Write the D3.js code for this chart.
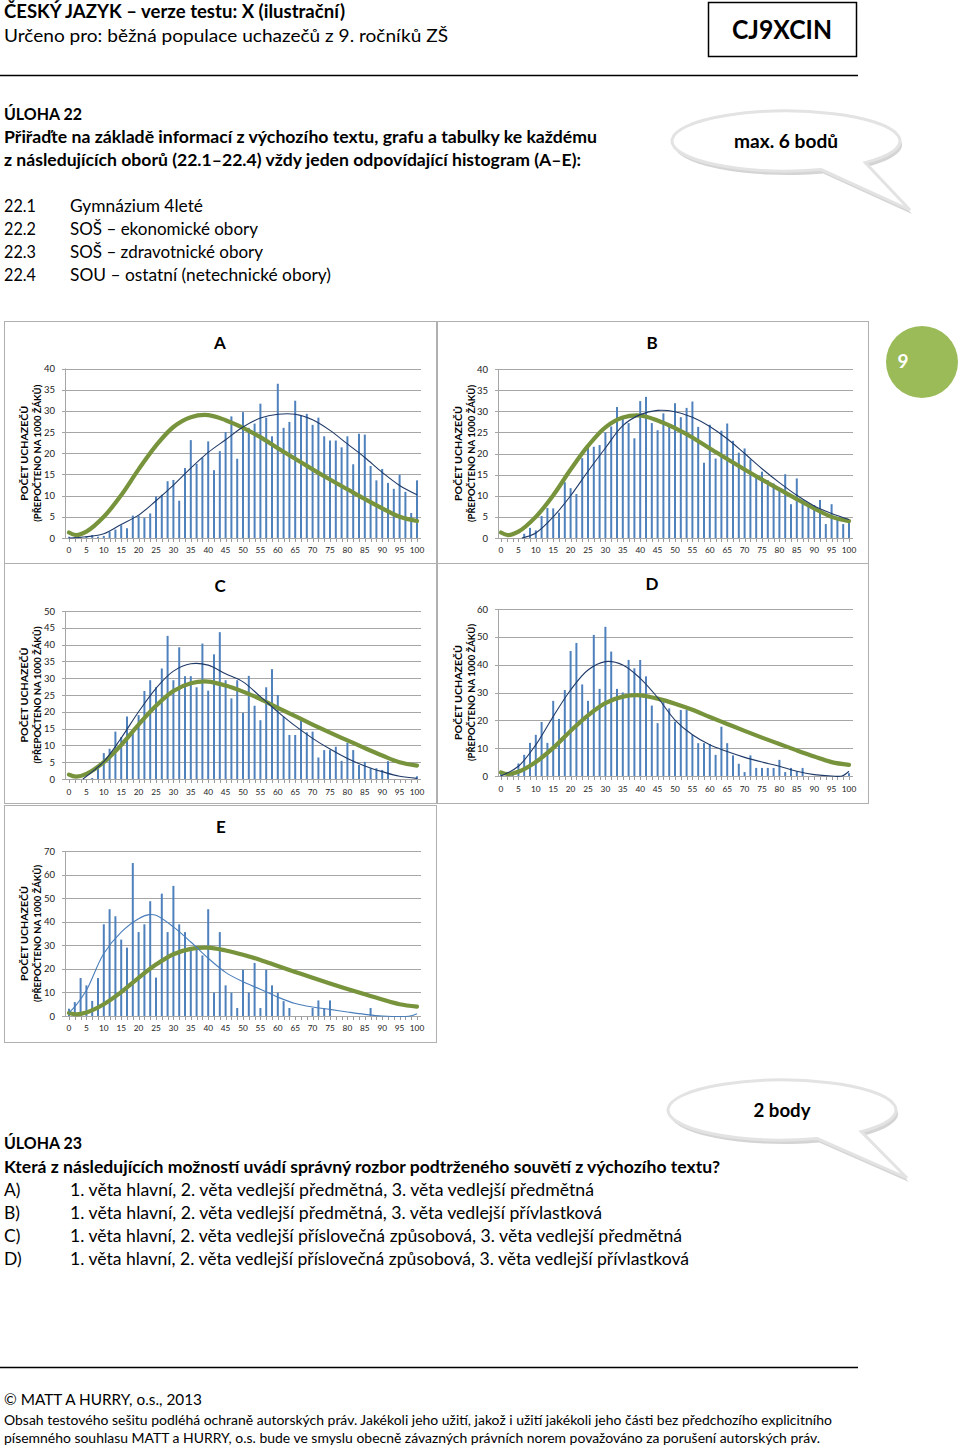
<!DOCTYPE html>
<html><head><meta charset="utf-8">
<script src="https://cdn.jsdelivr.net/npm/d3@7/dist/d3.min.js"></script>
<style>body{margin:0;background:#fff}svg{display:block}</style>
</head><body>
<svg id="page" width="960" height="1447"></svg>
<script>
// ---------------- DATA ----------------
const scoreIdx = d3.range(61); // 61 score categories, shown on a 0–100 % axis
const xTickLabels = [0,5,10,15,20,25,30,35,40,45,50,55,60,65,70,75,80,85,90,95,100];
const yTicksA = [0,5,10,15,20,25,30,35,40];
const yTicksB = [0,5,10,15,20,25,30,35,40];
const yTicksC = [0,5,10,15,20,25,30,35,40,45,50];
const yTicksD = [0,10,20,30,40,50,60];
const yTicksE = [0,10,20,30,40,50,60,70];

const barsA = [0.3,0.2,0.2,0.4,0.7,0.3,0.5,1.5,2,3,2.3,5.3,5.3,4.8,5.8,9.8,10.2,13.4,13.7,8.8,16.5,23.1,17.5,19,22.8,16,20.5,25,28.7,18.7,29.7,26,27,31.7,28.4,24,36.4,26,27.4,32.4,28.9,29.3,26.7,28.4,24,23,23,21.4,24,17.4,24.6,24.4,17,13.6,16.3,13,11.6,14.9,10.9,5.9,13.6];
const barsB = [0,0,0,0,1,2.4,1.8,5.2,7.1,7,6,13.2,11.8,10.4,18.9,21.7,21.6,22,25,26.4,31,28.2,27.2,23.6,32.4,33.4,27.2,25.5,29.5,26.3,31.9,28.6,30.8,32.3,26.3,17.8,26.8,18.8,25.4,27.1,23,20.2,21.2,18.6,14.9,15.7,13.7,12.9,11.8,15.1,8,14.1,9,7.8,7.8,9,3.3,8,5,3.3,4.3];
const barsC = [0,0,0,0,0.3,3.6,7.7,9,14.1,12.5,18.6,14.1,19,26.2,29.4,27.3,32.9,42.6,29.4,39.2,30.6,30.6,27.3,40.3,26.3,37.1,43.7,29.4,24,29.4,19.7,30.7,21.8,17.5,27.3,32.7,25,18.5,13.1,13.1,17.4,13.9,14.1,6.4,8.6,8.6,9.6,5.4,10.8,8.6,4.2,5.1,3.2,3.2,2.7,5.3,0,0,0,0,0.8];
const barsD = [1.3,0,0.7,4.5,7.6,11.9,14.8,19.4,11.9,27,20.5,30.9,44.9,47.8,32.9,27,50.7,31.3,53.6,44.7,31.3,30,41.7,38.7,41.7,35.8,25.3,19,26.7,24.3,19.5,23.7,23.7,14.8,11.8,11.8,11.5,7.6,17.7,11.8,7.4,4.4,1.4,7.4,2.9,2.9,2.9,2.9,5.8,1.4,2.9,1.7,2.9,0,0,0,0,0,0,0,1];
const barsE = [3.1,5.9,16.1,13,6.4,16.1,38.9,45.3,42.3,32.4,29,64.9,35.6,38.9,48.7,16.3,51.9,35.6,55.2,38.9,35.6,28.5,29,25.7,45.3,9.9,35.6,13,9.9,3.4,19.6,9.9,22.5,3.4,19.6,13,9.9,6.3,3.4,0,0,0,3.4,6.6,3.4,6.6,0,0,0,0,0,0,3.4,0,0,0,0,0,0,0,0];

// fitted curves [percent, value]
const fitA = [[0,0],[5,0.3],[10,1],[15,3.2],[20,5.4],[25,8.8],[30,12.5],[35,16.5],[40,20.2],[45,23.2],[50,26.2],[55,28.3],[60,29.2],[65,29.2],[70,27.9],[75,25.4],[80,22.2],[85,19],[90,15.5],[95,12.4],[100,10.2]];
const fitB = [[6,0],[10,1.2],[15,5],[20,10],[25,15.8],[30,21.3],[35,26.6],[40,29.2],[45,30.2],[50,29.9],[55,28.6],[60,26.4],[65,23.5],[70,20],[75,16.4],[80,13.1],[85,10.1],[90,7.6],[95,5.8],[100,4.4]];
const fitC = [[4,0],[10,5.2],[15,12.2],[20,20],[25,27],[30,32.1],[35,34.3],[40,33.9],[45,31.3],[50,28.9],[55,24.5],[60,20],[65,15.8],[70,12.1],[75,8.9],[80,6.1],[85,3.9],[90,2.2],[95,0.8],[100,0.2]];
const fitD = [[0,0],[5,3.5],[10,11.2],[15,21.4],[20,30.9],[25,38.1],[30,41.1],[35,39.9],[40,35.1],[45,28.2],[50,20.1],[55,14.8],[60,11.2],[65,8.8],[70,6.7],[75,5],[80,3.5],[85,1.7],[90,0.5],[95,0],[98,0],[100,1.7]];
const fitE = [[0,1.4],[2,4.5],[5,10.9],[10,26.5],[15,35.6],[20,41.3],[23,43],[25,42.7],[30,37.8],[35,31.4],[40,24.5],[45,18.5],[50,14.5],[55,11.3],[60,8],[65,5.3],[70,3.8],[75,2.8],[80,1.7],[85,0.7],[90,0],[98,0],[100,1]];
// reference population curve (same in all histograms)
const refCurve = [[0,1.3],[2,0.7],[5,1.5],[10,5],[15,10.1],[20,16.2],[25,21.8],[30,26.2],[35,28.5],[40,29],[45,27.8],[50,26],[55,23.8],[60,21.2],[65,18.7],[70,16.2],[75,13.8],[80,11.5],[85,9.2],[90,7],[95,5],[100,4]];

const taskItems = [["22.1","Gymnázium 4leté"],["22.2","SOŠ – ekonomické obory"],["22.3","SOŠ – zdravotnické obory"],["22.4","SOU – ostatní (netechnické obory)"]];
const answers = [["A)","1. věta hlavní, 2. věta vedlejší předmětná, 3. věta vedlejší předmětná"],
 ["B)","1. věta hlavní, 2. věta vedlejší předmětná, 3. věta vedlejší přívlastková"],
 ["C)","1. věta hlavní, 2. věta vedlejší příslovečná způsobová, 3. věta vedlejší předmětná"],
 ["D)","1. věta hlavní, 2. věta vedlejší příslovečná způsobová, 3. věta vedlejší přívlastková"]];

// ---------------- DRAW ----------------
const F = "Lato, 'Open Sans', 'DejaVu Sans', sans-serif";
const svg = d3.select("#page");

function txt(x, y, s, o = {}) {
  const t = svg.append("text").attr("x", x).attr("y", y).text(s)
    .attr("font-family", F).attr("font-size", o.size || 17)
    .attr("font-weight", o.bold ? "bold" : "normal")
    .attr("fill", o.fill || "#000")
    .attr("text-anchor", o.anchor || "start");
  if (o.len) t.attr("textLength", o.len).attr("lengthAdjust", "spacingAndGlyphs");
  return t;
}

// header
txt(4, 18, "ČESKÝ JAZYK – verze testu: X (ilustrační)", {bold:true, size:18, len:341});
txt(4, 42, "Určeno pro: běžná populace uchazečů z 9. ročníků ZŠ", {size:18, len:444});
svg.append("rect").attr("x", 708.5).attr("y", 2.5).attr("width", 148).attr("height", 54)
  .attr("fill", "none").attr("stroke", "#000").attr("stroke-width", 1.5);
txt(782, 39, "CJ9XCIN", {bold:true, size:27, anchor:"middle", len:100});
svg.append("line").attr("x1", 0).attr("x2", 858).attr("y1", 75.5).attr("y2", 75.5).attr("stroke", "#000").attr("stroke-width", 1.5);

txt(4, 120, "ÚLOHA 22", {bold:true, size:17.5, len:78});
txt(4, 143, "Přiřaďte na základě informací z výchozího textu, grafu a tabulky ke každému", {bold:true, size:17.5, len:593});
txt(4, 166, "z následujících oborů (22.1–22.4) vždy jeden odpovídající histogram (A–E):", {bold:true, size:17.5, len:577});

function bubble(cx, cy, rx, ry, a1, a2, tip, label, lw) {
  const p = a => [cx + rx * Math.cos(a * Math.PI / 180), cy + ry * Math.sin(a * Math.PI / 180)];
  const P2 = p(a2), P1 = p(a1);
  const d = `M${P2[0]},${P2[1]} A${rx},${ry} 0 1 0 ${P1[0]},${P1[1]} L${tip[0]},${tip[1]} Z`;
  svg.append("path").attr("d", d).attr("transform", "translate(2,4)").attr("fill", "#d4d4d4");
  svg.append("path").attr("d", d).attr("fill", "#fff").attr("stroke", "#e3e3e3").attr("stroke-width", 3);
  txt(cx, cy + 7, label, {bold:true, size:19, anchor:"middle", len:lw});
}
bubble(786, 141, 114, 30, 72, 46, [910, 210], "max. 6 bodů", 104);

const list = svg.append("g");
taskItems.forEach((d, i) => {
  txt(4, 212 + i * 23, d[0], {size:17.5, len:32});
});
const itemLens = [133, 188, 193, 261];
taskItems.forEach((d, i) => txt(70, 212 + i * 23, d[1], {size:17.5, len:itemLens[i]}));

// green page badge
svg.append("circle").attr("cx", 922).attr("cy", 362).attr("r", 36).attr("fill", "#9bbb59");
txt(903, 368, "9", {bold:true, size:19, fill:"#fff", anchor:"middle"});

// charts
function chart(c) {
  const g = svg.append("g");
  g.append("rect").attr("x", c.box[0] + 0.5).attr("y", c.box[1] + 0.5)
    .attr("width", c.box[2] - c.box[0]).attr("height", c.box[3] - c.box[1])
    .attr("fill", "#fff").attr("stroke", "#b0b0b0");
  const x = d3.scaleLinear().domain([0, 100]).range([c.xl, c.xr]);
  const xb = d3.scalePoint().domain(scoreIdx).range([c.xl, c.xr]);
  const y = d3.scaleLinear().domain([0, c.ymax]).range([c.yb, c.yt]);
  // gridlines
  g.selectAll(".grid").data(c.yticks).join("line")
    .attr("x1", c.gl).attr("x2", c.gr)
    .attr("y1", d => Math.round(y(d)) + 0.5).attr("y2", d => Math.round(y(d)) + 0.5)
    .attr("stroke", "#a6a6a6").attr("stroke-width", 1);
  // y axis line
  g.append("line").attr("x1", c.gl + 3.5).attr("x2", c.gl + 3.5).attr("y1", y(c.ymax)).attr("y2", y(0))
    .attr("stroke", "#a6a6a6");
  // y labels
  g.selectAll(".yl").data(c.yticks).join("text")
    .attr("x", c.gl - 7).attr("y", d => y(d) + 3.5).attr("text-anchor", "end")
    .attr("font-family", F).attr("font-size", 9.5).attr("fill", "#222").text(d => d);
  // x minor ticks
  g.selectAll(".xt").data(scoreIdx).join("line")
    .attr("x1", d => Math.round(xb(d)) + 0.5).attr("x2", d => Math.round(xb(d)) + 0.5)
    .attr("y1", y(0)).attr("y2", y(0) + 4).attr("stroke", "#9a9a9a");
  // x labels
  g.selectAll(".xl").data(xTickLabels).join("text")
    .attr("x", d => x(d)).attr("y", c.xly + 3).attr("text-anchor", "middle")
    .attr("font-family", F).attr("font-size", 8.3).attr("fill", "#222").text(d => d);
  // bars
  g.selectAll(".bar").data(c.bars.map((v, i) => ({i, v}))).join("rect")
    .attr("x", d => xb(d.i) - 1).attr("width", 2)
    .attr("y", d => y(d.v)).attr("height", d => y(0) - y(d.v))
    .attr("fill", "#4f81bd");
  // x axis line
  g.append("line").attr("x1", c.gl).attr("x2", c.gr).attr("y1", Math.round(y(0)) + 0.5).attr("y2", Math.round(y(0)) + 0.5)
    .attr("stroke", "#a6a6a6");
  const line = d3.line().x(d => x(d[0])).y(d => y(d[1])).curve(d3.curveCatmullRom.alpha(0.5));
  g.append("path").attr("d", line(refCurve)).attr("fill", "none")
    .attr("stroke", "#77933c").attr("stroke-width", 4.2).attr("stroke-linecap", "round");
  g.append("path").attr("d", line(c.fit)).attr("fill", "none")
    .attr("stroke", c.fitColor).attr("stroke-width", 1.1);
  // title
  g.append("text").attr("x", c.tx).attr("y", c.ty).attr("text-anchor", "middle")
    .attr("font-family", F).attr("font-weight", "bold").attr("font-size", 17).text(c.title);
  // y axis title
  const cy = (y(0) + y(c.ymax)) / 2;
  g.append("text").attr("transform", `translate(${c.at1},${cy}) rotate(-90)`).attr("text-anchor", "middle")
    .attr("font-family", F).attr("font-weight", "bold").attr("font-size", 9.5)
    .attr("textLength", 95).attr("lengthAdjust", "spacingAndGlyphs").text("POČET UCHAZEČŮ");
  g.append("text").attr("transform", `translate(${c.at1 + 12.5},${cy}) rotate(-90)`).attr("text-anchor", "middle")
    .attr("font-family", F).attr("font-weight", "bold").attr("font-size", 9.5)
    .attr("textLength", 137).attr("lengthAdjust", "spacingAndGlyphs").text("(PŘEPOČTENO NA 1000 ŽÁKŮ)");
}

chart({box:[4,321,436,563], title:"A", tx:220, ty:349, xl:69, xr:417, gl:62, gr:421, yb:538, yt:368.5, ymax:40, yticks:yTicksA, xly:550, bars:barsA, fit:fitA, fitColor:"#1f3a68", at1:28});
chart({box:[437,321,868,563], title:"B", tx:652, ty:349, xl:501, xr:849, gl:495, gr:853, yb:538, yt:369, ymax:40, yticks:yTicksB, xly:550, bars:barsB, fit:fitB, fitColor:"#1f3a68", at1:462});
chart({box:[4,563,436,803], title:"C", tx:220, ty:592, xl:69, xr:417, gl:62, gr:421, yb:779, yt:611, ymax:50, yticks:yTicksC, xly:792, bars:barsC, fit:fitC, fitColor:"#1f3a68", at1:28});
chart({box:[437,563,868,803], title:"D", tx:652, ty:590, xl:501, xr:849, gl:495, gr:853, yb:776, yt:609, ymax:60, yticks:yTicksD, xly:789, bars:barsD, fit:fitD, fitColor:"#1f3a68", at1:462});
chart({box:[4,805,436,1042], title:"E", tx:221, ty:833, xl:69, xr:417, gl:62, gr:421, yb:1016, yt:851, ymax:70, yticks:yTicksE, xly:1028, bars:barsE, fit:fitE, fitColor:"#4a7ebb", at1:28});

// task 23
bubble(782, 1110, 114, 30, 72, 46, [907, 1178], "2 body", 57);
txt(4, 1149, "ÚLOHA 23", {bold:true, size:17.5, len:78});
txt(4, 1173, "Která z následujících možností uvádí správný rozbor podtrženého souvětí z výchozího textu?", {bold:true, size:17.5, len:716});
const ansLens = [524, 532, 612, 619];
answers.forEach((d, i) => {
  txt(4, 1196 + i * 23, d[0], {size:17.5});
  txt(70, 1196 + i * 23, d[1], {size:17.5, len:ansLens[i]});
});

// footer
svg.append("line").attr("x1", 0).attr("x2", 858).attr("y1", 1367.5).attr("y2", 1367.5).attr("stroke", "#000").attr("stroke-width", 1.5);
txt(4, 1405, "© MATT A HURRY, o.s., 2013", {size:16, len:198});
txt(4, 1425, "Obsah testového sešitu podléhá ochraně autorských práv. Jakékoli jeho užití, jakož i užití jakékoli jeho části bez předchozího explicitního", {size:13.5, len:828});
txt(4, 1443, "písemného souhlasu MATT a HURRY, o.s. bude ve smyslu obecně závazných právních norem považováno za porušení autorských práv.", {size:13.5, len:816});
</script>
</body></html>
